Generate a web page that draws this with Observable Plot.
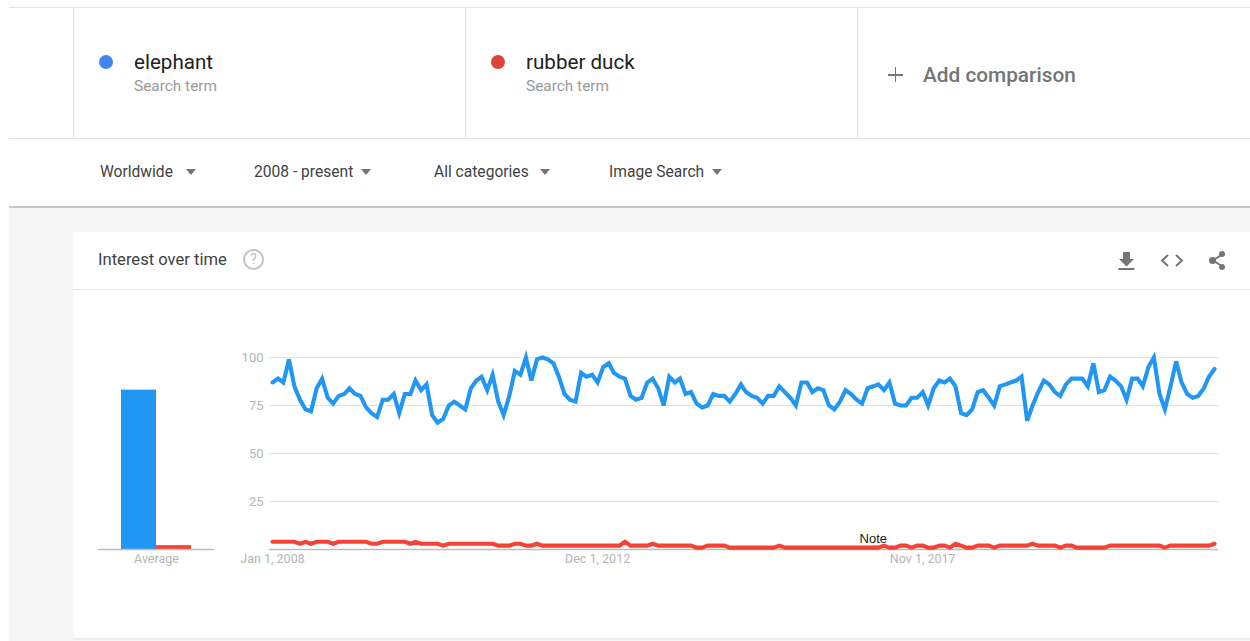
<!DOCTYPE html>
<html><head><meta charset="utf-8">
<script src="https://cdn.jsdelivr.net/npm/d3@7"></script>
<script src="https://cdn.jsdelivr.net/npm/@observablehq/plot@0.6"></script>
<style>
html,body{margin:0;padding:0;width:1250px;height:641px;overflow:hidden;background:#fff;font-family:Roboto,sans-serif}
.a{position:absolute;white-space:nowrap}
.t{position:absolute;white-space:nowrap;transform:translateY(-50%);line-height:1}
.tri{position:absolute;width:0;height:0;border-left:5.5px solid transparent;border-right:5.5px solid transparent;border-top:6.5px solid #757575}
svg{overflow:visible}
</style></head><body>
<div class="a" style="left:9px;top:207px;width:1241px;height:434px;background:#f6f6f6"></div>
<div class="a" style="left:9px;top:206px;width:1241px;height:2px;background:#c6c6c6"></div>
<div class="a" style="left:9px;top:7px;width:1241px;height:1px;background:#e2e2e2"></div>
<div class="a" style="left:9px;top:138px;width:1241px;height:1px;background:#e2e2e2"></div>
<div class="a" style="left:73px;top:8px;width:1px;height:130px;background:#e2e2e2"></div>
<div class="a" style="left:465px;top:8px;width:1px;height:130px;background:#e2e2e2"></div>
<div class="a" style="left:857px;top:8px;width:1px;height:130px;background:#e2e2e2"></div>
<div class="a" style="left:99px;top:55px;width:14px;height:14px;border-radius:50%;background:#4285F4"></div>
<div class="a" style="left:491px;top:55px;width:14px;height:14px;border-radius:50%;background:#DB4437"></div>
<div class="t" style="left:134px;top:62px;font-size:20.6px;color:#212121">elephant</div>
<div class="t" style="left:134px;top:87px;font-size:15.4px;color:#9a9a9a">Search term</div>
<div class="t" style="left:526px;top:62px;font-size:20.6px;color:#212121">rubber duck</div>
<div class="t" style="left:526px;top:87px;font-size:15.4px;color:#9a9a9a">Search term</div>
<div class="a" style="left:888px;top:74px;width:15px;height:1.6px;background:#757575"></div>
<div class="a" style="left:894.7px;top:67px;width:1.6px;height:15px;background:#757575"></div>
<div class="t" style="left:923px;top:75px;font-size:20.8px;font-weight:500;color:#757575">Add comparison</div>
<div class="t" style="left:100px;top:173px;font-size:15.6px;color:#424242">Worldwide</div>
<div class="tri" style="left:186px;top:169px"></div>
<div class="t" style="left:254px;top:173px;font-size:15.6px;color:#424242">2008 - present</div>
<div class="tri" style="left:361px;top:169px"></div>
<div class="t" style="left:434px;top:173px;font-size:15.6px;color:#424242">All categories</div>
<div class="tri" style="left:540px;top:169px"></div>
<div class="t" style="left:609px;top:173px;font-size:15.6px;color:#424242">Image Search</div>
<div class="tri" style="left:712px;top:169px"></div>
<div class="a" style="left:73px;top:232px;width:1177px;height:406px;background:#fff;border-bottom:2px solid #ececec"></div>
<div class="a" style="left:73px;top:289px;width:1177px;height:1px;background:#e6e6e6"></div>
<div class="t" style="left:98px;top:260px;font-size:16.6px;color:#424242">Interest over time</div>
<div class="a" style="left:243px;top:249px;width:17px;height:17px;border:2px solid #c4c4c4;border-radius:50%;color:#bdbdbd;font-size:14px;line-height:17px;text-align:center">?</div>
<svg class="a" style="left:1115px;top:248px" width="112" height="24" viewBox="0 0 112 24" fill="#757575">
<path d="M8 4h7v7h4l-7.500 7.500L4 11h4zM3.500 20h16v2h-16z"/>
<path d="M53 7l-6 5.500 6 5.500M61 7l6 5.500-6 5.500" fill="none" stroke="#757575" stroke-width="2"/>
<path d="M98 12.500L107 6.500M98 12.500L107 18" stroke="#757575" stroke-width="2"/>
<circle cx="97.500" cy="12.500" r="3.500"/><circle cx="107" cy="6" r="3"/><circle cx="107" cy="19" r="3"/>
</svg>
<div id="bar" class="a" style="left:98px;top:340px"></div>
<div id="line" class="a" style="left:230px;top:340px"></div>
<script>
const elephant = [87,89,87,99,85,78,73,72,84,89,79,76,80,81,84,81,80,74,71,69,78,78,81,71,81,81,88,83,86,70,66,68,75,77,75,73,84,88,90,83,91,77,70,80,93,91,100,88,99,100,99,97,90,81,78,77,92,90,91,87,95,97,92,90,89,80,78,79,87,89,84,75,90,87,89,81,82,76,74,75,81,80,80,77,81,86,82,80,79,76,80,80,85,82,79,75,87,87,82,84,83,75,73,77,83,81,78,76,84,85,86,83,87,76,75,75,79,79,82,75,84,88,87,89,85,71,70,73,82,83,79,75,85,86,87,88,90,67,75,82,88,86,82,80,86,89,89,89,85,97,82,83,90,88,85,78,89,89,85,95,100,81,73,85,98,87,81,79,80,84,90,94];
const rubberDuck = [4,4,4,4,4,3,4,3,4,4,4,3,4,4,4,4,4,4,3,3,4,4,4,4,4,3,4,3,3,3,3,2,3,3,3,3,3,3,3,3,3,2,2,2,3,3,2,2,3,2,2,2,2,2,2,2,2,2,2,2,2,2,2,2,4,2,2,2,2,3,2,2,2,2,2,2,2,1,1,2,2,2,2,1,1,1,1,1,1,1,1,1,2,1,1,1,1,1,1,1,1,1,1,1,1,1,1,1,1,1,1,2,1,1,2,2,1,2,2,1,1,2,2,1,3,2,1,1,2,2,2,1,2,2,2,2,2,2,3,2,2,2,2,1,2,2,1,1,1,1,1,1,2,2,2,2,2,2,2,2,2,2,1,2,2,2,2,2,2,2,2,3];
const averages = [83, 2];
const terms = ["elephant", "rubber duck"];
const termColors = ["#2196F3", "#F44336"];
const yTicks = [25, 50, 75, 100];
const xTickDates = [new Date(Date.UTC(2008,0,1)), new Date(Date.UTC(2012,11,1)), new Date(Date.UTC(2017,10,1))];
const noteDates = [new Date(Date.UTC(2017,1,1))];
const noteLabels = ["Note"];
const startDate = new Date(Date.UTC(2008,0,1));

const dates = elephant.map((_, i) => d3.utcMonth.offset(startDate, i));
const series = terms.flatMap((t, k) => (k ? rubberDuck : elephant).map((v, i) => ({date: dates[i], value: v, term: t})));
const averageRows = terms.map((t, i) => ({term: t, value: averages[i]}));
const H = 249, MT = 17, MB = 40;
const fmt = d3.utcFormat("%b %-d, %Y");
const gray = "#b5b5b5";

document.getElementById("line").append(Plot.plot({
  width: 1020, height: H, marginTop: MT, marginBottom: MB, marginLeft: 39, marginRight: 32,
  style: {fontFamily: "Roboto, sans-serif", background: "transparent", overflow: "visible"},
  x: {type: "utc", domain: [dates[0], dates[dates.length-1]], range: [42, 984]},
  y: {domain: [0, 100]},
  color: {domain: terms, range: termColors},
  marks: [
    Plot.ruleY(yTicks, {stroke: "#e3e3e3", strokeWidth: 1.2}),
    Plot.ruleY([0], {stroke: "#bdbdbd", strokeWidth: 1.4}),
    Plot.axisY({ticks: yTicks, tickSize: 0, tickPadding: 6, anchor: "left", label: null, fontSize: 13, color: gray}),
    Plot.axisX({ticks: xTickDates, tickSize: 0, tickPadding: 5, anchor: "bottom", label: null, fontSize: 12.500, color: gray, tickFormat: fmt}),
    Plot.ruleX(noteDates, {x: d => d, y1: 0, y2: 2, stroke: "#aaa", strokeWidth: 1}),
    Plot.line(series, {x: "date", y: "value", z: "term", stroke: "term", strokeWidth: 4.1, strokeLinejoin: "miter", strokeMiterlimit: 4, curve: "linear"}),
    Plot.text(noteLabels, {x: noteDates[0], y: 0, text: d => d, dy: -11, fontSize: 13, fill: "#222", fontFamily: "Liberation Sans, sans-serif"})
  ]
}));

document.getElementById("bar").append(Plot.plot({
  width: 116, height: H, marginTop: MT, marginBottom: MB, marginLeft: 0, marginRight: 0,
  style: {fontFamily: "Roboto, sans-serif", background: "transparent", overflow: "visible"},
  x: {type: "band", domain: terms, range: [23, 93], padding: 0, axis: null},
  y: {domain: [0, 100], axis: null},
  color: {domain: terms, range: termColors},
  marks: [
    Plot.barY(averageRows, {x: "term", y: "value", fill: "term"}),
    Plot.ruleY([0], {stroke: "#bdbdbd", strokeWidth: 1.4}),
    Plot.text(["Average"], {frameAnchor: "bottom", dy: 13, fontSize: 12.500, fill: gray})
  ]
}));
</script>
</body></html>
